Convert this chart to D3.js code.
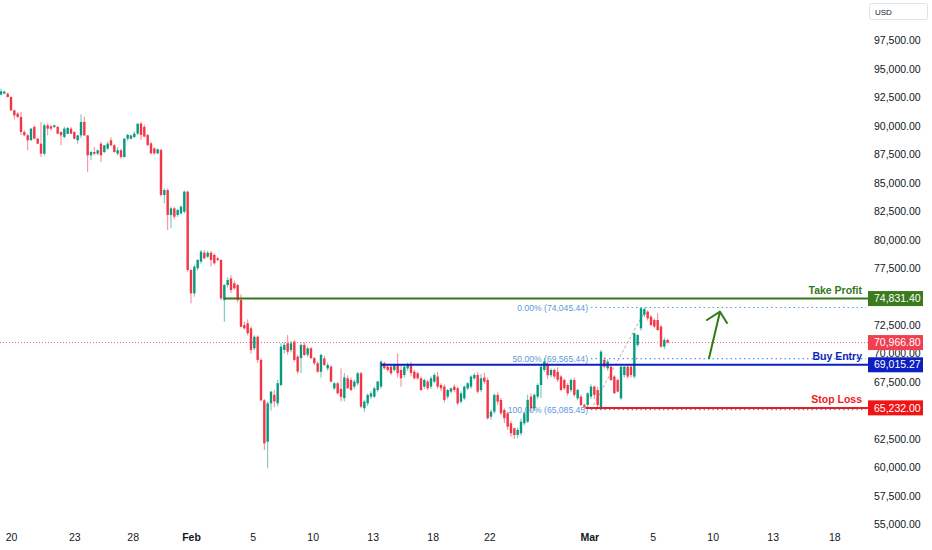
<!DOCTYPE html>
<html>
<head>
<meta charset="utf-8">
<script src="https://cdn.jsdelivr.net/npm/d3@7"></script>
<style>
  body { margin: 0; background: #fff; }
  svg { display: block; font-family: "Liberation Sans", Arial, sans-serif; }
</style>
</head>
<body>
<div id="vis"></div>
<script>
// 4h candles, [open, high, low, close], one row per bar
const ohlc = [
    [92740, 93260, 92680, 93030], [92830, 93080, 92780, 93000], [92820, 92900, 92500, 92530], [92530, 92600, 91300, 91360],
    [91360, 91400, 90570, 90920], [91070, 91200, 90700, 90780], [90780, 91210, 89200, 89460], [89460, 89600, 89100, 89170],
    [89170, 89300, 87850, 88730], [88730, 89800, 88700, 89750], [89900, 90040, 88800, 88870], [88870, 88950, 88400, 88430],
    [88430, 90340, 87260, 87550], [87550, 90190, 87400, 90040], [90040, 90200, 89160, 89750], [89950, 90100, 89600, 89750],
    [89900, 90100, 89800, 90040], [89900, 90000, 89300, 89310], [89460, 89500, 88300, 89170], [89020, 89900, 88900, 89750],
    [89300, 89900, 89250, 89810], [89750, 89900, 89300, 89310], [89460, 89500, 88800, 88870], [88730, 89200, 88430, 89160],
    [89160, 91000, 88900, 90340], [90340, 90800, 89100, 89160], [89160, 89200, 85950, 87410], [87410, 87800, 86970, 87700],
    [87700, 88140, 87400, 87550], [87560, 87900, 87400, 87850], [88430, 88600, 86820, 87410], [87700, 88300, 87600, 88290],
    [88000, 88600, 87900, 88430], [88730, 89000, 88200, 88290], [88290, 88400, 87650, 87700], [87560, 88100, 87400, 87850],
    [87850, 88000, 87100, 87260], [87260, 88900, 87200, 88870], [88870, 89300, 88700, 89200], [88870, 89200, 88800, 89160],
    [89020, 89500, 88900, 89310], [89310, 90200, 89200, 90190], [90200, 90360, 88760, 89200], [89900, 90100, 89000, 89050],
    [89190, 89300, 88200, 88320], [88460, 88600, 87500, 87580], [88020, 88100, 87450, 87580], [87580, 88000, 87500, 87940],
    [87880, 88000, 83800, 83930], [83930, 84500, 83200, 84360], [84360, 84500, 80850, 82170], [82170, 82900, 81000, 82750],
    [82750, 82900, 81800, 82020], [82170, 82700, 82000, 82610], [82310, 83000, 82200, 82900], [82460, 84300, 82300, 84220],
    [84220, 84300, 77200, 77340], [77340, 77400, 74410, 75290], [75290, 77800, 75000, 77630], [77490, 78300, 77300, 78220],
    [78070, 79100, 77900, 78950], [78860, 79100, 78300, 78360], [78510, 79000, 78400, 78860], [78860, 79000, 77630, 78220],
    [78660, 78800, 77800, 77930], [78360, 78500, 78100, 78220], [78220, 78300, 74700, 74850], [74700, 76100, 72800, 76020],
    [76020, 76700, 75800, 76460], [76600, 76900, 75300, 75580], [76170, 76400, 75600, 75730], [76020, 76100, 74500, 74700],
    [74700, 75200, 72300, 72360], [72500, 72800, 72100, 72220], [72660, 73000, 71600, 71780], [72220, 72400, 70000, 70320],
    [70460, 71600, 70300, 71480], [71480, 71600, 69200, 69440], [69440, 69600, 65800, 65900], [65900, 66000, 61530, 62120],
    [62260, 65800, 59930, 65630], [65630, 66700, 65000, 66660], [66370, 66800, 65300, 65800], [65630, 67700, 65400, 67400],
    [67240, 70900, 67100, 70610], [70320, 71000, 70000, 70760], [70900, 71630, 69900, 70170], [70320, 71100, 70100, 70900],
    [71050, 71200, 69300, 69440], [69730, 69900, 68200, 68420], [69600, 70900, 68300, 70760], [70760, 71000, 69800, 69880],
    [69900, 70600, 69700, 70460], [70460, 70600, 69500, 69600], [69600, 69700, 69000, 69150], [69150, 69300, 68300, 68410],
    [68400, 70000, 67900, 69880], [69580, 69800, 68900, 69000], [68700, 69200, 68500, 69000], [68850, 69000, 67500, 67540],
    [66950, 67500, 66800, 67390], [67390, 67500, 66400, 66510], [66900, 68700, 65800, 66200], [66100, 68300, 65800, 67900],
    [67830, 68100, 66900, 66950], [67680, 67900, 66700, 66800], [67100, 67700, 66900, 67540], [67390, 68400, 67200, 68270],
    [68270, 68400, 65200, 65340], [65200, 65900, 64900, 65780], [65630, 66500, 65400, 66370], [66220, 66700, 66000, 66510],
    [66220, 67100, 66100, 66950], [66800, 67600, 66600, 67540], [67100, 69400, 66900, 69290], [69150, 69300, 68600, 68710],
    [68850, 69000, 68400, 68560], [68850, 69000, 68100, 68270], [68560, 69100, 68400, 69000], [69000, 70020, 67900, 68270],
    [68560, 69000, 67100, 67830], [68120, 69000, 67900, 68850], [68700, 69200, 68500, 69000], [69000, 69300, 68000, 68300],
    [68410, 68600, 67700, 67830], [68270, 68400, 67700, 67830], [67830, 68000, 66700, 66800], [67100, 67800, 66900, 67680],
    [67540, 67700, 66800, 66950], [67100, 68000, 66900, 67830], [67540, 68300, 67400, 68120], [67980, 68400, 66900, 67100],
    [67240, 67400, 66700, 66950], [67100, 67300, 65700, 65930], [66220, 66900, 66000, 66800], [66660, 67000, 66500, 66950],
    [67100, 67300, 66600, 66800], [66950, 67100, 65500, 65630], [65780, 66700, 65600, 66510], [66070, 67200, 65900, 67100],
    [66950, 67500, 66800, 67390], [67100, 68100, 66900, 67980], [67830, 68300, 67700, 68120], [68120, 68400, 66500, 66660],
    [66800, 68200, 66600, 67830], [67900, 68300, 67300, 67540], [67680, 67900, 64200, 64320], [64460, 65100, 64200, 64900],
    [64900, 66500, 64700, 66370], [66370, 66600, 65500, 65780], [65930, 66100, 64600, 64760], [65050, 65200, 63900, 64320],
    [64760, 64900, 63300, 63580], [63880, 64100, 62700, 63000], [63440, 63500, 62500, 62850], [62850, 63500, 62600, 63290],
    [63000, 64300, 62800, 64020], [63880, 64900, 63700, 64760], [64020, 66400, 63900, 65930], [66220, 66500, 64900, 65200],
    [65200, 66500, 65000, 66370], [66220, 67400, 66000, 67240], [67240, 69000, 66100, 68850], [68560, 69600, 68400, 69290],
    [69000, 69300, 67800, 68100], [68100, 68700, 67900, 68560], [68560, 68700, 67800, 67980], [68400, 68800, 67500, 67700],
    [67980, 68100, 66700, 66800], [67680, 67800, 66800, 66950], [67240, 67400, 66300, 66510], [66800, 67800, 66600, 67680],
    [67680, 67900, 66200, 66370], [66070, 66900, 65900, 66800], [66220, 66400, 65400, 65490], [65490, 65600, 65085, 65340],
    [65490, 66600, 65300, 66510], [66220, 67300, 66000, 67100], [67100, 67200, 66000, 66370], [66800, 67100, 65300, 65490],
    [65190, 70300, 65085, 70170], [69440, 69700, 68700, 68850], [68710, 69500, 68500, 69290], [68850, 69000, 67600, 67680],
    [67980, 68100, 66500, 66510], [67680, 67800, 66600, 66660], [66070, 68900, 65900, 68850], [68120, 68900, 67900, 68850],
    [68850, 69100, 67800, 67980], [68850, 69000, 67900, 68120], [67980, 71800, 67800, 71780], [70760, 71700, 70600, 71630],
    [72220, 74000, 72000, 73980], [73400, 74045, 73200, 73900], [73680, 73800, 72900, 73100], [73240, 73400, 72400, 72510],
    [72950, 73100, 72200, 72370], [72950, 73540, 72000, 72070], [72370, 72500, 70500, 70610], [70610, 71400, 70400, 71190],
    [71190, 71300, 70900, 70967]
];

// time axis: bar index of each label
const dayTicks = [3, 22, 39.5, 57, 75.5, 93.5, 111.5, 129.5, 146.5, 176.5, 195.5, 213.5, 231.5, 250];
const dayLabels = ["20", "23", "28", "Feb", "5", "10", "13", "18", "22", "Mar", "5", "10", "13", "18"];
const monthLabels = ["Feb", "Mar"];

const priceTicks = d3.range(55000, 97501, 2500);
const lastPrice = 70966.80;

// trade levels: price and bar where the line starts
const tradeNames = ["Take Profit", "Buy Entry", "Stop Loss"];
const tradePrices = [74831.40, 69015.27, 65232.00];
const tradeStarts = [67, 114, 175.3];

// fib retracement drawn from bar 177 to bar 193.7
const fibPcts = ["0.00%", "50.00%", "100.00%"];
const fibPrices = [74045.44, 69565.44, 65085.45];
const fibAnchorBars = [177, 193.7];

// hand drawn arrow (bar, price)
const arrowBars = [211.8, 215.7, 217.8];
const arrowShaft = [212.4, 69588];
const arrowPrices = [72951, 73680, 72688];

const W = 932, H = 550;
const plotRight = 868;

const svg = d3.select("#vis")
  .append("svg")
    .attr("width", W)
    .attr("height", H);

const x = d3.scaleLinear()
    .domain([-0.3, 260.1])
    .range([0, plotRight]);

const y = d3.scaleLinear()
    .domain([55000, 97500])
    .range([524.4, 40.4]);

const upColor = "#089981";
const downColor = "#f23645";
const tradeColors = ["#38761d", "#0d1fc0", "#ee1c1c"];
const boxColors = ["#3b7a1f", "#0d1fc0", "#f01414"];
const fibColor = "#5b9ad8";

// price boxes on the axis
const boxPrices = [tradePrices[0], lastPrice, tradePrices[1], tradePrices[2]];
const boxFills = [boxColors[0], "#f0404f", boxColors[1], boxColors[2]];

// last price dotted line
svg.append("line")
    .attr("x1", 0)
    .attr("x2", plotRight)
    .attr("y1", y(lastPrice))
    .attr("y2", y(lastPrice))
    .attr("stroke", downColor)
    .attr("stroke-opacity", 0.75)
    .attr("stroke-width", 1)
    .attr("stroke-dasharray", "1,2");

// fib levels
fibPrices.forEach((p, i) => {
    svg.append("line")
        .attr("x1", x(fibAnchorBars[0]))
        .attr("x2", plotRight - 2)
        .attr("y1", y(p))
        .attr("y2", y(p))
        .attr("stroke", fibColor)
        .attr("stroke-width", 1.2)
        .attr("stroke-dasharray", "1.5,3");

    svg.append("text")
        .attr("x", x(fibAnchorBars[0]) - 3)
        .attr("y", y(p))
        .attr("dy", "0.35em")
        .attr("text-anchor", "end")
        .attr("font-size", "8.6px")
        .attr("fill", fibColor)
        .text(`${fibPcts[i]} (${d3.format(",.2f")(p)})`);
});

svg.append("line")
    .attr("x1", x(fibAnchorBars[0]))
    .attr("y1", y(fibPrices[2]))
    .attr("x2", x(fibAnchorBars[1]))
    .attr("y2", y(fibPrices[0]))
    .attr("stroke", "#9598a1")
    .attr("stroke-width", 0.8)
    .attr("stroke-dasharray", "3,2");

// candles
const candles = svg.append("g").attr("class", "candles");

candles.selectAll("line")
    .data(ohlc)
    .join("line")
    .attr("x1", (d, i) => x(i))
    .attr("x2", (d, i) => x(i))
    .attr("y1", d => y(d[1]))
    .attr("y2", d => y(d[2]))
    .attr("stroke", d => d[3] >= d[0] ? upColor : downColor)
    .attr("stroke-opacity", 0.6)
    .attr("stroke-width", 1);

candles.selectAll("rect")
    .data(ohlc)
    .join("rect")
    .attr("x", (d, i) => x(i) - 1.2)
    .attr("width", 2.4)
    .attr("y", d => y(Math.max(d[0], d[3])))
    .attr("height", d => Math.max(1, Math.abs(y(d[0]) - y(d[3]))))
    .attr("fill", d => d[3] >= d[0] ? upColor : downColor);

// trade levels
tradePrices.forEach((p, i) => {
    svg.append("line")
        .attr("x1", x(tradeStarts[i]))
        .attr("x2", plotRight)
        .attr("y1", y(p))
        .attr("y2", y(p))
        .attr("stroke", tradeColors[i])
        .attr("stroke-width", 2);

    svg.append("text")
        .attr("x", plotRight - 6)
        .attr("y", y(p) - 5)
        .attr("text-anchor", "end")
        .attr("font-size", "10.5px")
        .attr("font-weight", "bold")
        .attr("fill", tradeColors[i])
        .text(tradeNames[i]);
});

// arrow
const arrowPath = d3.path();
arrowPath.moveTo(x(arrowShaft[0]), y(arrowShaft[1]));
arrowPath.lineTo(x(arrowBars[1]), y(arrowPrices[1]));
arrowPath.moveTo(x(arrowBars[0]), y(arrowPrices[0]));
arrowPath.lineTo(x(arrowBars[1]), y(arrowPrices[1]));
arrowPath.lineTo(x(arrowBars[2]), y(arrowPrices[2]));

svg.append("path")
    .attr("d", arrowPath.toString())
    .attr("fill", "none")
    .attr("stroke", "#2e7d12")
    .attr("stroke-width", 2)
    .attr("stroke-linecap", "round")
    .attr("stroke-linejoin", "round");

// price axis, ticks hidden under a box are left out
const visibleTicks = priceTicks.filter(t =>
    boxPrices.every(p => Math.abs(y(t) - y(p)) > 9));

const yAxis = svg.append("g")
    .attr("transform", `translate(${plotRight}, 0)`)
    .call(d3.axisRight(y)
        .tickValues(visibleTicks)
        .tickFormat(d3.format(",.2f"))
        .tickSize(0)
        .tickPadding(6));

yAxis.select(".domain").remove();
yAxis.selectAll("text")
    .attr("font-family", "Liberation Sans, Arial, sans-serif")
    .attr("font-size", "10.5px")
    .attr("fill", "#131722");

// time axis
const xAxis = svg.append("g")
    .attr("transform", "translate(0, 527)")
    .call(d3.axisBottom(x)
        .tickValues(dayTicks)
        .tickFormat((d, i) => dayLabels[i])
        .tickSize(0)
        .tickPadding(7));

xAxis.select(".domain").remove();
xAxis.selectAll("text")
    .attr("font-family", "Liberation Sans, Arial, sans-serif")
    .attr("font-size", "10.5px")
    .attr("fill", "#131722")
    .attr("font-weight", (d, i) => monthLabels.includes(dayLabels[i]) ? "bold" : "normal");

boxPrices.forEach((p, i) => {
    svg.append("rect")
        .attr("x", plotRight)
        .attr("y", y(p) - 7.5)
        .attr("width", 55)
        .attr("height", 15)
        .attr("fill", boxFills[i]);

    svg.append("text")
        .attr("x", plotRight + 6)
        .attr("y", y(p))
        .attr("dy", "0.35em")
        .attr("font-size", "10.5px")
        .attr("fill", "#fff")
        .text(d3.format(",.2f")(p));
});

// currency tag
svg.append("rect")
    .attr("x", 869.5)
    .attr("y", 3.5)
    .attr("width", 58)
    .attr("height", 16)
    .attr("rx", 2)
    .attr("fill", "#fff")
    .attr("stroke", "#e0e3eb");

svg.append("text")
    .attr("x", 875)
    .attr("y", 14.5)
    .attr("font-size", "8px")
    .attr("fill", "#131722")
    .text("USD");
</script>
</body>
</html>
